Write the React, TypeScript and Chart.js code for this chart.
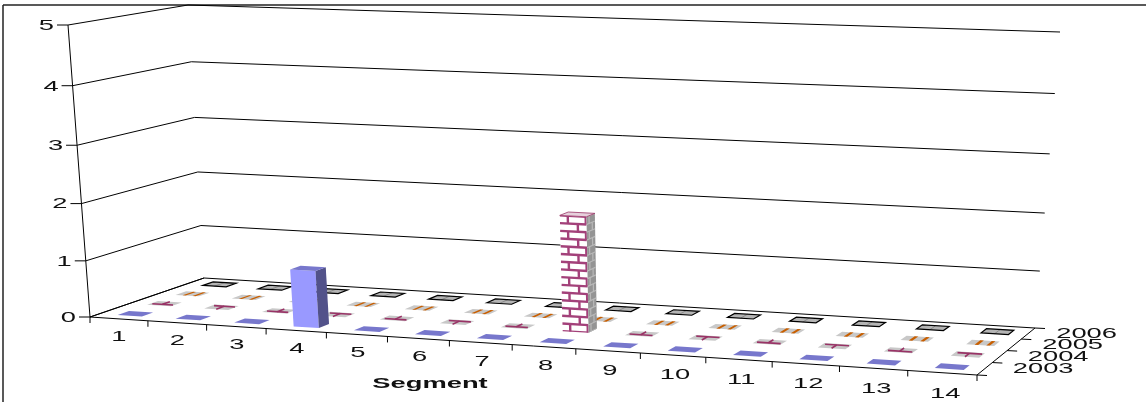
import React, { useEffect, useRef } from "react";
import { Chart, registerables } from "chart.js";

Chart.register(...registerables);

const segments = ["1", "2", "3", "4", "5", "6", "7", "8", "9", "10", "11", "12", "13", "14"];
const years = ["2003", "2004", "2005", "2006"];
const values2003 = [0, 0, 0, 1, 0, 0, 0, 0, 0, 0, 0, 0, 0, 0];
const values2004 = [0, 0, 0, 0, 0, 0, 0, 2, 0, 0, 0, 0, 0, 0];
const values2005 = [0, 0, 0, 0, 0, 0, 0, 0, 0, 0, 0, 0, 0, 0];
const values2006 = [0, 0, 0, 0, 0, 0, 0, 0, 0, 0, 0, 0, 0, 0];
const seriesValues = [values2003, values2004, values2005, values2006];
const axisTitle = "Segment";

type P = [number, number];
type Quad = [P, P, P, P];
// Projection frame of the 3D box: front-left, front-right, back-right, back-left
const FLOOR: Quad = [[90, 317], [977, 375], [1035, 328], [204, 278]];
const CEIL: Quad = [[68, 25], [1009, 58], [1060, 32], [188, 5]];

function homography(q: Quad, u: number, w: number): P {
  const [[x0, y0], [x1, y1], [x2, y2], [x3, y3]] = q;
  const dx1 = x1 - x2, dx2 = x3 - x2, sx = x0 - x1 + x2 - x3;
  const dy1 = y1 - y2, dy2 = y3 - y2, sy = y0 - y1 + y2 - y3;
  const det = dx1 * dy2 - dx2 * dy1;
  const g = (sx * dy2 - dx2 * sy) / det;
  const h = (dx1 * sy - sx * dy1) / det;
  const a = x1 - x0 + g * x1, b = x3 - x0 + h * x3;
  const d = y1 - y0 + g * y1, e = y3 - y0 + h * y3;
  const den = g * u + h * w + 1;
  return [(a * u + b * w + x0) / den, (d * u + e * w + y0) / den];
}

function proj(u: number, w: number, t: number): P {
  const f = homography(FLOOR, u, w);
  const c = homography(CEIL, u, w);
  const k = t / (1 + 0.05 * (1 - t));
  return [f[0] + (c[0] - f[0]) * k, f[1] + (c[1] - f[1]) * k];
}

function poly(ctx: CanvasRenderingContext2D, pts: P[]) {
  ctx.beginPath();
  pts.forEach((p, i) => (i ? ctx.lineTo(p[0], p[1]) : ctx.moveTo(p[0], p[1])));
  ctx.closePath();
}
function seg(ctx: CanvasRenderingContext2D, a: P, b: P, color = "#000", lw = 1) {
  ctx.strokeStyle = color;
  ctx.lineWidth = lw;
  ctx.beginPath();
  ctx.moveTo(a[0], a[1]);
  ctx.lineTo(b[0], b[1]);
  ctx.stroke();
}
function text(ctx: CanvasRenderingContext2D, s: string, x: number, y: number, align: CanvasTextAlign, bold = false) {
  ctx.save();
  ctx.translate(x, y);
  ctx.scale(1.95, 1);
  ctx.font = `${bold ? "bold " : ""}14px "Liberation Sans"`;
  ctx.fillStyle = "#111";
  ctx.textAlign = align;
  ctx.textBaseline = "middle";
  ctx.fillText(s, 0, 0);
  ctx.restore();
}

const MAROON = "#993366";
const ORANGE = "#c85f00";

function flatPattern(ctx: CanvasRenderingContext2D, row: number, i: number, u0: number, u1: number, w0: number, w1: number) {
  const at = (a: number, b: number) => proj(u0 + (u1 - u0) * a, w0 + (w1 - w0) * b, 0);
  const outline = [at(0, 0), at(1, 0), at(1, 1), at(0, 1)];
  if (row === 0) {
    poly(ctx, outline);
    ctx.fillStyle = "#7777cc";
    ctx.fill();
    return;
  }
  poly(ctx, outline);
  ctx.fillStyle = "#c8c8c8";
  ctx.fill();
  if (row === 1) {
    const high = i % 2 === 0;
    seg(ctx, at(0.08, high ? 0.3 : 0.75), at(0.95, high ? 0.3 : 0.75), MAROON, 1.6);
    seg(ctx, at(0.5, high ? 0.3 : 0.75), at(0.5, high ? 1 : 0), MAROON, 1.6);
  } else if (row === 2) {
    [0.3, 0.72].forEach((s) => {
      poly(ctx, [at(s, 0), at(s + 0.13, 0), at(s + 0.13, 1), at(s, 1)]);
      ctx.fillStyle = ORANGE;
      ctx.fill();
    });
  } else {
    poly(ctx, outline);
    ctx.fillStyle = "#b4b4b4";
    ctx.fill();
    seg(ctx, at(0.5, 0), at(0.5, 1), "#8a8a8a", 1);
    poly(ctx, outline);
    ctx.strokeStyle = "#000";
    ctx.lineWidth = 1.2;
    ctx.stroke();
  }
}

function drawBricks(ctx: CanvasRenderingContext2D, a: P, b: P, c: P, d: P, line: string, lw: number, cols: number) {
  // a,b = bottom corners, c,d = top corners (matching a,b)
  const at = (s: number, t: number): P => {
    const l: P = [a[0] + (d[0] - a[0]) * t, a[1] + (d[1] - a[1]) * t];
    const r: P = [b[0] + (c[0] - b[0]) * t, b[1] + (c[1] - b[1]) * t];
    return [l[0] + (r[0] - l[0]) * s, l[1] + (r[1] - l[1]) * s];
  };
  const rows = Math.round(Math.abs(a[1] - d[1]) / 7.7);
  for (let r = 0; r <= rows; r++) seg(ctx, at(0, r / rows), at(1, r / rows), line, lw);
  for (let r = 0; r < rows; r++) {
    const off = r % 2 === 0 ? 0.3 : 0.67;
    for (let s = off; s < 1; s += cols) seg(ctx, at(s, r / rows), at(s, (r + 1) / rows), line, lw);
  }
}

function drawBar(ctx: CanvasRenderingContext2D, row: number, i: number, ucIn: number, wc: number, t: number) {
  const uc = ucIn + 0.002;
  const du = (0.42 / segments.length) / 2;
  const dw = (0.38 / years.length) / 2;
  const u0 = uc - du, u1 = uc + du, w0 = wc - dw, w1 = wc + dw;
  if (t <= 0) {
    flatPattern(ctx, row, i, u0, u1, w0, w1);
    return;
  }
  const fb0 = proj(u0, w0, 0), fb1 = proj(u1, w0, 0), ft0 = proj(u0, w0, t), ft1 = proj(u1, w0, t);
  const bb1 = proj(u1, w1, 0), bt1 = proj(u1, w1, t), bt0 = proj(u0, w1, t);
  const front = [fb0, fb1, ft1, ft0];
  const side = [fb1, bb1, bt1, ft1];
  const top = [ft0, ft1, bt1, bt0];
  if (row === 0) {
    poly(ctx, front); ctx.fillStyle = "#9999ff"; ctx.fill();
    poly(ctx, side); ctx.fillStyle = "#52528a"; ctx.fill();
    poly(ctx, top); ctx.fillStyle = "#7777cc"; ctx.fill();
  } else {
    poly(ctx, front); ctx.fillStyle = "#ffffff"; ctx.fill();
    ctx.save(); poly(ctx, front); ctx.clip();
    drawBricks(ctx, fb0, fb1, ft1, ft0, "#a3417a", 2.4, 0.67);
    ctx.restore();
    poly(ctx, side); ctx.fillStyle = "#949494"; ctx.fill();
    ctx.save(); poly(ctx, side); ctx.clip();
    drawBricks(ctx, fb1, bb1, bt1, ft1, "#b8b8b8", 1.2, 2);
    ctx.restore();
    poly(ctx, top); ctx.fillStyle = "#e6d0dc"; ctx.fill();
    ctx.strokeStyle = MAROON; ctx.lineWidth = 0.8; ctx.stroke();
  }
}

const box3dPlugin = {
  id: "box3d",
  beforeDatasetsDraw(chart: any) {
    const ctx: CanvasRenderingContext2D = chart.ctx;
    const { x, y, z } = chart.scales;
    const U = (v: number) => (x.getPixelForValue(v) - x.left) / x.width;
    const W = (v: number) => (z.getPixelForValue(v) - z.left) / z.width;
    const T = (v: number) => (y.bottom - y.getPixelForValue(v)) / y.height;

    ctx.save();
    // frame of the chart object
    seg(ctx, [3, 402], [3, 5], "#222", 1.5);
    seg(ctx, [3, 5], [1146, 5], "#222", 1.5);

    // wall gridlines and value axis
    y.ticks.forEach((tk: any) => {
      const t = T(tk.value);
      const fl = proj(0, 0, t), bl = proj(0, 1, t), br = proj(1, 1, t);
      seg(ctx, fl, bl);
      seg(ctx, bl, br);
      seg(ctx, [fl[0] - 11, fl[1]], fl);
      text(ctx, String(tk.value), fl[0] - 14, fl[1] + 1, "right");
    });
    seg(ctx, proj(0, 0, 0), proj(0, 0, 1));

    // floor edges
    seg(ctx, proj(0, 0, 0), proj(1, 0, 0));
    seg(ctx, proj(1, 0, 0), proj(1, 1, 0));
    seg(ctx, proj(0, 0, 0), proj(0, 1, 0));

    // segment ticks and labels
    for (let i = 0; i <= segments.length; i++) {
      const p = proj(U(i - 0.5), 0, 0);
      seg(ctx, p, [p[0], p[1] + 6]);
    }
    segments.forEach((s, i) => {
      const p = proj(U(i), 0, 0);
      text(ctx, s, p[0] + (i / 13) * 3, p[1] + 18 + (i / 13) * 3, "center");
    });

    // depth ticks and labels
    for (let j = 0; j <= years.length; j++) {
      const p = proj(1, W(j - 0.5), 0);
      seg(ctx, p, [p[0] + 10, p[1] + 0.5]);
    }
    years.forEach((s, j) => {
      const p = proj(1, W(j), 0);
      text(ctx, s, p[0] + 28, p[1] + 0.5, "left");
    });

    text(ctx, axisTitle, 430, 384, "center", true);

    // marks, far row first
    for (let j = years.length - 1; j >= 0; j--) {
      const data = chart.data.datasets[j].data as number[];
      data.forEach((v, i) => drawBar(ctx, j, i, U(i), W(j), T(v)));
    }
    ctx.restore();
  },
};

export default function App() {
  const ref = useRef<HTMLCanvasElement>(null);
  useEffect(() => {
    const chart = new Chart(ref.current!, {
      type: "bar",
      data: {
        labels: segments,
        datasets: years.map((label, j) => ({
          label,
          data: seriesValues[j],
          backgroundColor: "transparent",
          borderWidth: 0,
        })),
      },
      options: {
        animation: false,
        responsive: false,
        events: [],
        layout: { padding: 0 },
        plugins: { legend: { display: false }, tooltip: { enabled: false } },
        scales: {
          x: { type: "category", display: false },
          y: { type: "linear", display: false, min: 0, max: 5, ticks: { stepSize: 1 } },
          z: { type: "category", axis: "x", display: false, labels: years, offset: true },
        },
      },
      plugins: [box3dPlugin],
    } as any);
    return () => chart.destroy();
  }, []);
  return (
    <div style={{ position: "absolute", left: 0, top: 0, width: 1146, height: 402, background: "#fff", overflow: "hidden" }}>
      <canvas ref={ref} width={1146} height={402} style={{ display: "block", filter: "blur(0.4px)" }} />
    </div>
  );
}
